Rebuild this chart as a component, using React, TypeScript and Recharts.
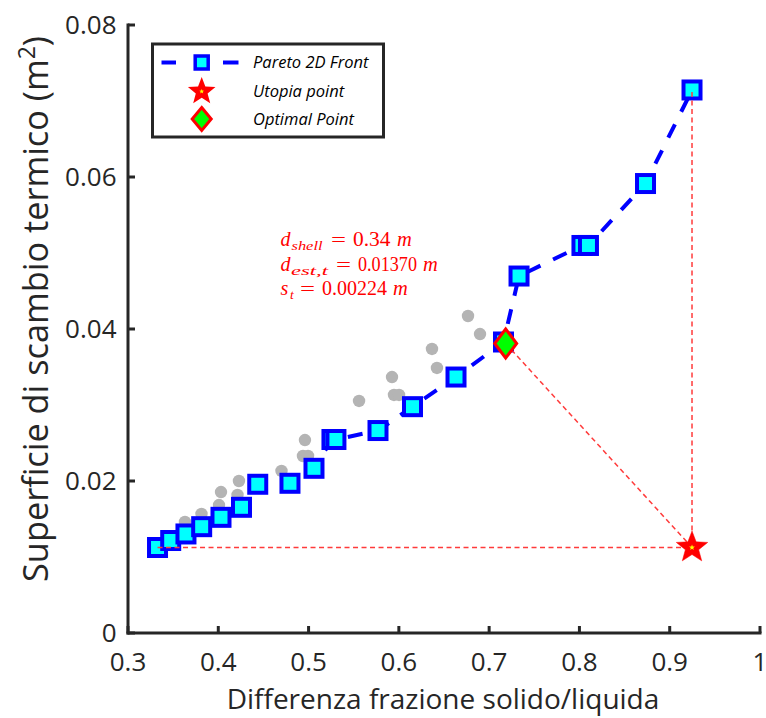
import React from 'react';
import { ScatterChart, Scatter, XAxis, YAxis } from 'recharts';

// ---- data ----
const paretoX = [0.3327, 0.3473, 0.3642, 0.3816, 0.403, 0.4257, 0.4437, 0.4794, 0.506, 0.5259, 0.5303, 0.5769, 0.6151, 0.6633, 0.7159, 0.7331, 0.8028, 0.81, 0.8732, 0.9247];
const paretoY = [0.01125, 0.01217, 0.01303, 0.01399, 0.01522, 0.01654, 0.01957, 0.0197, 0.02167, 0.02546, 0.02546, 0.02664, 0.02978, 0.03368, 0.03829, 0.04697, 0.05099, 0.05099, 0.05914, 0.07145];
const dominatedX = [0.3631, 0.3814, 0.4008, 0.403, 0.4213, 0.4229, 0.47, 0.4938, 0.4994, 0.496, 0.5559, 0.5946, 0.6002, 0.5924, 0.6422, 0.6367, 0.6899, 0.6766];
const dominatedY = [0.01461, 0.01566, 0.01684, 0.01855, 0.01816, 0.02, 0.02132, 0.02329, 0.02329, 0.02539, 0.03053, 0.03132, 0.03132, 0.03368, 0.03487, 0.03737, 0.03934, 0.04171];
const utopiaPoint = { x: 0.9247, y: 0.01125 };
const optimalPoint = { x: 0.7183, y: 0.03809 };
const xTicks = [0.3, 0.4, 0.5, 0.6, 0.7, 0.8, 0.9, 1];
const xTickLabels = ['0.3', '0.4', '0.5', '0.6', '0.7', '0.8', '0.9', '1'];
const yTicks = [0, 0.02, 0.04, 0.06, 0.08];
const yTickLabels = ['0', '0.02', '0.04', '0.06', '0.08'];
const legendLabels = ['Pareto 2D Front', 'Utopia point', 'Optimal Point'];
const xTitle = 'Differenza frazione solido/liquida';
const yTitle = 'Superficie di scambio termico (m';

const zip = (xs: number[], ys: number[]) => xs.map((x, i) => ({ x, y: ys[i] }));
const paretoData = zip(paretoX, paretoY);
const dominatedData = zip(dominatedX, dominatedY);
const firstPareto = paretoData[0];
const lastPareto = paretoData[paretoData.length - 1];
const horizData = [{ x: firstPareto.x, y: utopiaPoint.y }, utopiaPoint];
const vertData = [utopiaPoint, { x: utopiaPoint.x, y: lastPareto.y }];
const diagData = [optimalPoint, utopiaPoint];

const AXIS = '#262626';
const FONT = '"Open Sans", sans-serif';
const SERIF = '"Liberation Serif", "Times New Roman", serif';
const RED = '#ff0000';
const REDLINE = '#ff3b3b';

const starPoints = (cx: number, cy: number, R: number, r: number) => {
  const pts: string[] = [];
  for (let i = 0; i < 10; i++) {
    const a = (-90 + i * 36) * Math.PI / 180;
    const rad = i % 2 === 0 ? R : r;
    pts.push(`${cx + rad * Math.cos(a)},${cy + rad * Math.sin(a)}`);
  }
  return pts.join(' ');
};

const BottomTick = (p: any) => {
  const i = xTicks.indexOf(p.payload.value);
  return (
    <g>
      <line x1={p.x} x2={p.x} y1={p.y} y2={p.y - 7} stroke={AXIS} strokeWidth={3} />
      <text x={p.x} y={p.y + 38} textAnchor="middle" fontFamily={FONT} fontSize={26} fill={AXIS}>{xTickLabels[i]}</text>
    </g>
  );
};
const TopTick = (p: any) => (
  <line x1={p.x} x2={p.x} y1={p.y} y2={p.y + 7} stroke={AXIS} strokeWidth={3} />
);
const LeftTick = (p: any) => {
  const i = yTicks.indexOf(p.payload.value);
  return (
    <g>
      <line x1={p.x} x2={p.x + 7} y1={p.y} y2={p.y} stroke={AXIS} strokeWidth={3} />
      <text x={p.x - 11.5} y={p.y + 9} textAnchor="end" fontFamily={FONT} fontSize={26} fill={AXIS}>{yTickLabels[i]}</text>
    </g>
  );
};
const RightTick = (p: any) => (
  <line x1={p.x} x2={p.x - 7} y1={p.y} y2={p.y} stroke={AXIS} strokeWidth={3} />
);

const Square = (p: any) => (
  <rect x={p.cx - 8.5} y={p.cy - 8.5} width={17} height={17} fill="#00ffff" stroke="#0000ff" strokeWidth={4} />
);
const GrayDot = (p: any) => <circle cx={p.cx} cy={p.cy} r={6.2} fill="#b4b4b4" />;
const NoMark = () => <g />;
const Diamond = (p: any) => (
  <polygon points={`${p.cx},${p.cy - 14.5} ${p.cx + 11},${p.cy} ${p.cx},${p.cy + 14.5} ${p.cx - 11},${p.cy}`} fill="#00ff00" stroke={RED} strokeWidth={3} />
);
const Star = (p: any) => (
  <g>
    <polygon points={starPoints(p.cx, p.cy, 16.5, 7)} fill={RED} stroke={RED} strokeWidth={0.5} />
    <polygon points={starPoints(p.cx, p.cy, 3, 1.3)} fill="#ffff00" />
  </g>
);

const axisLine = { stroke: AXIS, strokeWidth: 3, strokeLinecap: 'square' as const };

type Seg = { t: string; x: number; w?: number; sub?: boolean; it?: boolean; fs?: number };
const annotationLines: { y: number; segs: Seg[] }[] = [
  { y: 246, segs: [
    { t: 'd', x: 280.5, it: true }, { t: 'shell', x: 291.5, w: 31, sub: true, it: true },
    { t: '=', x: 331, w: 15, fs: 19 }, { t: '0.34', x: 353, w: 37.5 }, { t: 'm', x: 397, it: true, fs: 20.5 },
  ] },
  { y: 271, segs: [
    { t: 'd', x: 280.5, it: true }, { t: 'est,t', x: 291, w: 37, sub: true, it: true },
    { t: '=', x: 336, w: 15, fs: 19 }, { t: '0.01370', x: 358, w: 59 }, { t: 'm', x: 423, it: true, fs: 20.5 },
  ] },
  { y: 295, segs: [
    { t: 's', x: 280.5, it: true }, { t: 't', x: 290, sub: true, it: true },
    { t: '=', x: 300, w: 15, fs: 19 }, { t: '0.00224', x: 322, w: 65 }, { t: 'm', x: 393, it: true, fs: 20.5 },
  ] },
];

const Overlay = () => (
  <svg width={766} height={718} style={{ position: 'absolute', left: 0, top: 0, pointerEvents: 'none' }}>
    {/* axis titles */}
    <text x={443} y={709} textAnchor="middle" fontFamily={FONT} fontSize={28} fill={AXIS}>{xTitle}</text>
    <text x={0} y={0} transform="translate(48,309) rotate(-90)" textAnchor="middle" fontFamily={FONT} fontSize={34.3} fill={AXIS}>
      {yTitle}
      <tspan dy={-13} fontSize={23}>2</tspan>
      <tspan dy={13}>)</tspan>
    </text>
    {/* annotation */}
    {annotationLines.map((ln, li) => (
      <g key={li}>
        {ln.segs.map((s, si) => (
          <text key={si} x={s.x} y={ln.y + (s.sub ? 3.5 : 0)} fontFamily={SERIF} fontSize={s.fs ?? (s.sub ? 13.5 : 20)}
            fontStyle={s.it ? 'italic' : 'normal'} fill={RED}
            {...(s.w ? { textLength: s.w, lengthAdjust: 'spacingAndGlyphs' } : {})}>{s.t}</text>
        ))}
      </g>
    ))}
    {/* legend */}
    <rect x={152.5} y={44} width={231} height={93} fill="#ffffff" stroke={AXIS} strokeWidth={3} />
    <line x1={161.5} x2={176} y1={62.5} y2={62.5} stroke="#0000ff" strokeWidth={4} />
    <line x1={223} x2={238.5} y1={62.5} y2={62.5} stroke="#0000ff" strokeWidth={4} />
    <rect x={195.2} y={56} width={13} height={13} fill="#00ffff" stroke="#0000ff" strokeWidth={3.5} />
    <polygon points={starPoints(201.7, 91.5, 14.5, 6.2)} fill={RED} />
    <polygon points={starPoints(201.7, 91.5, 2.5, 1.1)} fill="#ffff00" />
    <polygon points={`201.7,107.5 211.2,119 201.7,130.5 192.2,119`} fill="#00ff00" stroke={RED} strokeWidth={3} />
    {legendLabels.map((t, i) => (
      <text key={t} x={253} y={[67.5, 96.7, 125][i]} fontFamily={FONT} fontStyle="italic" fontSize={16.5} fill="#000">{t}</text>
    ))}
  </svg>
);

export default function App() {
  return (
    <div style={{ position: 'absolute', left: 0, top: 0, width: 766, height: 718, background: '#fff' }}>
      <ScatterChart width={766} height={718} margin={{ top: 25, right: 6, bottom: 0, left: 0 }}>
        <XAxis xAxisId={0} type="number" dataKey="x" domain={[0.3, 1]} ticks={xTicks} orientation="bottom" height={85}
          tickSize={0} tickMargin={0} tickLine={false} axisLine={axisLine} tick={<BottomTick />} interval={0} allowDataOverflow />
        <XAxis xAxisId="top" type="number" dataKey="x" domain={[0.3, 1]} ticks={xTicks} orientation="top" height={0}
          tickSize={0} tickMargin={0} tickLine={false} axisLine={axisLine} tick={<TopTick />} interval={0} allowDataOverflow />
        <YAxis yAxisId={0} type="number" dataKey="y" domain={[0, 0.08]} ticks={yTicks} orientation="left" width={128}
          tickSize={0} tickMargin={0} tickLine={false} axisLine={axisLine} tick={<LeftTick />} interval={0} allowDataOverflow />
        <YAxis yAxisId="right" type="number" dataKey="y" domain={[0, 0.08]} ticks={yTicks} orientation="right" width={0}
          tickSize={0} tickMargin={0} tickLine={false} axisLine={axisLine} tick={<RightTick />} interval={0} allowDataOverflow />
        <Scatter name="dominated" data={dominatedData} shape={GrayDot} isAnimationActive={false} />
        <Scatter name="Pareto 2D Front" data={paretoData} shape={Square} isAnimationActive={false}
          line={{ stroke: '#0000ff', strokeWidth: 4, strokeDasharray: '15 14' }} lineJointType="linear" />
        <Scatter name="h" data={horizData} shape={NoMark} isAnimationActive={false}
          line={{ stroke: REDLINE, strokeWidth: 1.5, strokeDasharray: '5 3.5' }} />
        <Scatter name="v" data={vertData} shape={NoMark} isAnimationActive={false}
          line={{ stroke: REDLINE, strokeWidth: 1.5, strokeDasharray: '5 3.5' }} />
        <Scatter name="d" data={diagData} shape={NoMark} isAnimationActive={false}
          line={{ stroke: REDLINE, strokeWidth: 1.5, strokeDasharray: '5 3.5' }} />
        <Scatter name="Optimal Point" data={[optimalPoint]} shape={Diamond} isAnimationActive={false} />
        <Scatter name="Utopia point" data={[utopiaPoint]} shape={Star} isAnimationActive={false} />
      </ScatterChart>
      <Overlay />
    </div>
  );
}
